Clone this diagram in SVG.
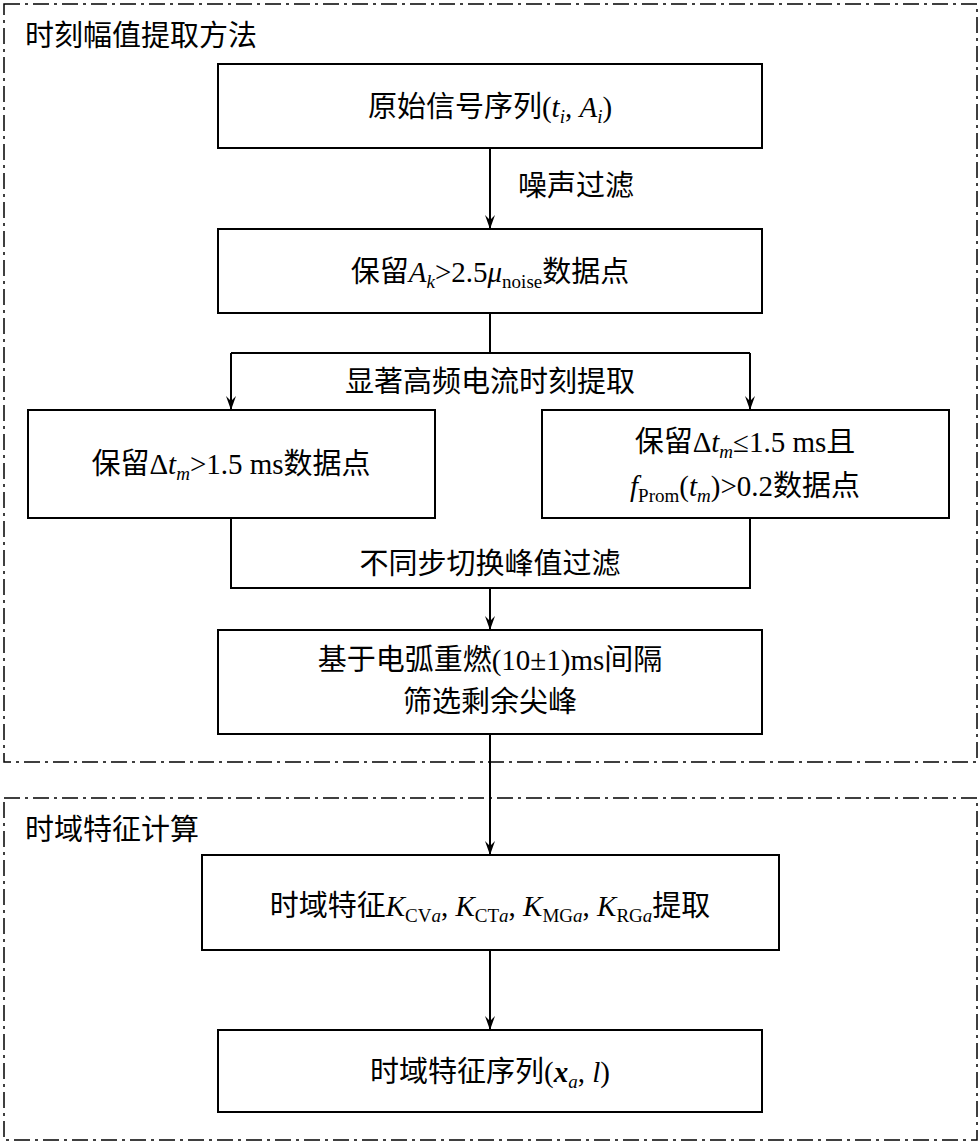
<svg xmlns="http://www.w3.org/2000/svg" width="980" height="1145" viewBox="0 0 980 1145">
<style>
text{font-family:"Liberation Serif","Noto Sans CJK SC",serif;font-size:29px;fill:#000}
.c{text-anchor:middle}
.i{font-style:italic}
.s{font-size:19px}
.b{fill:#fff;stroke:#000;stroke-width:2}
.g{fill:none;stroke:#000;stroke-width:1.5;stroke-dasharray:16 5 3 5}
.l{fill:none;stroke:#000;stroke-width:2}
</style>
<defs><marker id="a" markerWidth="14" markerHeight="10" refX="14" refY="5" orient="auto" markerUnits="userSpaceOnUse" viewBox="0 0 14 10"><path d="M0,0 L14,5 L0,10 L5,5 Z" fill="#000"/></marker></defs>
<rect width="980" height="1145" fill="#fff"/>
<g id="group1"><rect class="g" x="4" y="4" width="973" height="758"/><text x="25" y="46">时刻幅值提取方法</text></g>
<g id="group2"><rect class="g" x="4" y="798" width="973" height="342"/><text x="25" y="840">时域特征计算</text></g>
<g id="connectors">
<path class="l" d="M490,148 V229" marker-end="url(#a)"/>
<text x="518" y="196">噪声过滤</text>
<path class="l" d="M490,313 V353"/>
<path class="l" d="M231,353 H750"/>
<path class="l" d="M231,353 V410" marker-end="url(#a)"/>
<path class="l" d="M750,353 V410" marker-end="url(#a)"/>
<text class="c" x="490" y="392">显著高频电流时刻提取</text>
<path class="l" d="M231,518 V588 H750 V518"/>
<text class="c" x="490" y="574">不同步切换峰值过滤</text>
<path class="l" d="M490,588 V630" marker-end="url(#a)"/>
<path class="l" d="M490,734 V855" marker-end="url(#a)"/>
<path class="l" d="M490,950 V1030" marker-end="url(#a)"/>
</g>
<g id="n1"><rect class="b" x="218" y="64" width="544" height="84"/><text class="c" x="490" y="117">原始信号序列(<tspan class="i">t</tspan><tspan class="i s" dy="6">i</tspan><tspan dy="-6">, </tspan><tspan class="i">A</tspan><tspan class="i s" dy="6">i</tspan><tspan dy="-6">)</tspan></text></g>
<g id="n2"><rect class="b" x="218" y="229" width="544" height="84"/><text class="c" x="490" y="282">保留<tspan class="i">A</tspan><tspan class="i s" dy="6">k</tspan><tspan dy="-6">&gt;2.5</tspan><tspan class="i">μ</tspan><tspan class="s" dy="6">noise</tspan><tspan dy="-6">数据点</tspan></text></g>
<g id="n3"><rect class="b" x="28" y="410" width="407" height="108"/><text class="c" x="231" y="474">保留Δ<tspan class="i">t</tspan><tspan class="i s" dy="6">m</tspan><tspan dy="-6">&gt;1.5 ms数据点</tspan></text></g>
<g id="n4"><rect class="b" x="542" y="410" width="407" height="108"/><text class="c" x="745" y="452">保留Δ<tspan class="i">t</tspan><tspan class="i s" dy="6">m</tspan><tspan dy="-6">≤1.5 ms且</tspan></text><text class="c" x="745" y="496"><tspan class="i">f</tspan><tspan class="s" dy="6">Prom</tspan><tspan dy="-6">(</tspan><tspan class="i">t</tspan><tspan class="i s" dy="6">m</tspan><tspan dy="-6">)&gt;0.2数据点</tspan></text></g>
<g id="n5"><rect class="b" x="218" y="630" width="544" height="104"/><text class="c" x="490" y="670">基于电弧重燃(10±1)ms间隔</text><text class="c" x="490" y="712">筛选剩余尖峰</text></g>
<g id="n6"><rect class="b" x="202" y="855" width="577" height="95"/><text class="c" x="490" y="916">时域特征<tspan class="i">K</tspan><tspan class="s" dy="6">CV<tspan class="i">a</tspan></tspan><tspan dy="-6">, </tspan><tspan class="i">K</tspan><tspan class="s" dy="6">CT<tspan class="i">a</tspan></tspan><tspan dy="-6">, </tspan><tspan class="i">K</tspan><tspan class="s" dy="6">MG<tspan class="i">a</tspan></tspan><tspan dy="-6">, </tspan><tspan class="i">K</tspan><tspan class="s" dy="6">RG<tspan class="i">a</tspan></tspan><tspan dy="-6">提取</tspan></text></g>
<g id="n7"><rect class="b" x="218" y="1030" width="544" height="82"/><text class="c" x="490" y="1082">时域特征序列(<tspan font-weight="bold" class="i">x</tspan><tspan class="i s" dy="6">a</tspan><tspan dy="-6">, </tspan><tspan class="i">l</tspan>)</text></g>
</svg>
